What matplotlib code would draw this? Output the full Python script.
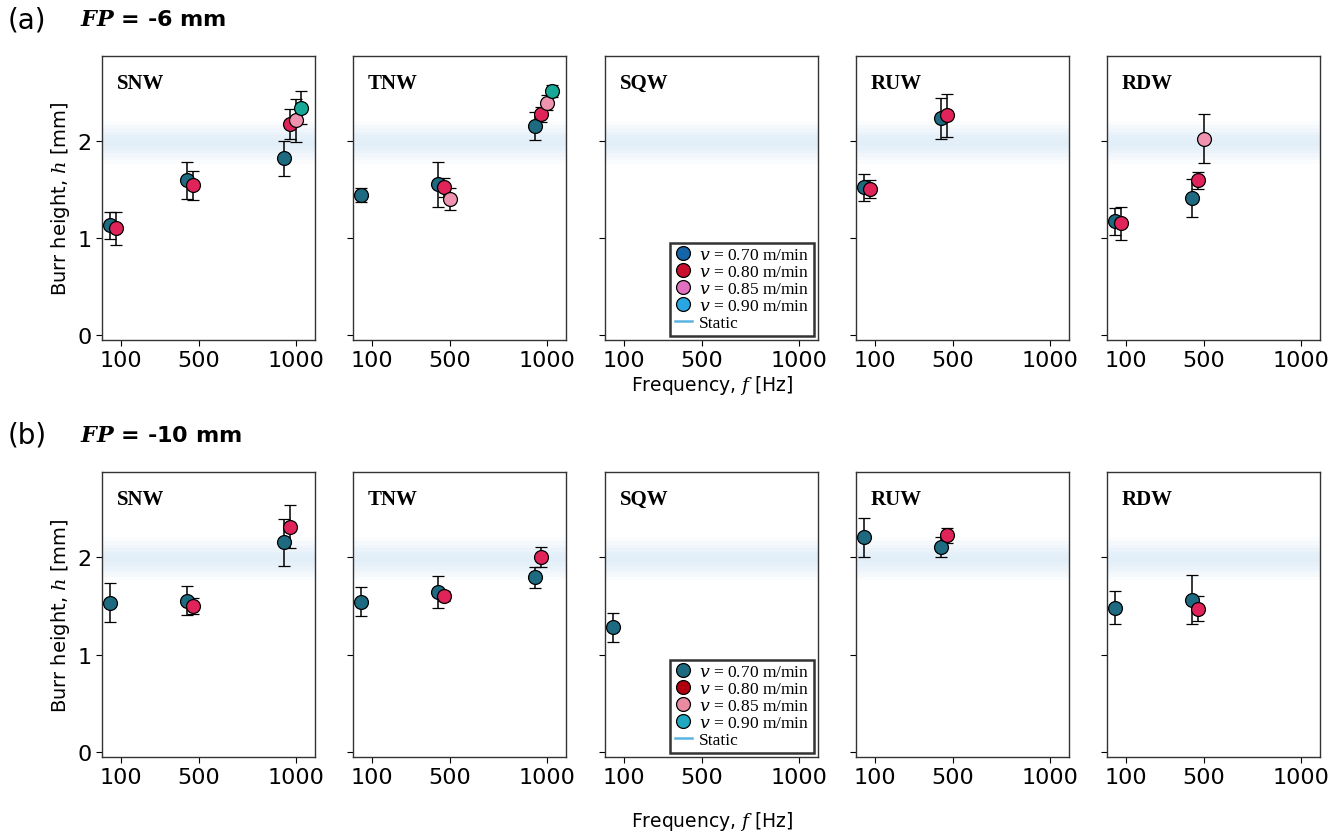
import numpy as np
import matplotlib
matplotlib.use("Agg")
import matplotlib.pyplot as plt
from matplotlib.lines import Line2D

plt.rcParams['font.family'] = ['DejaVu Sans']
plt.rcParams['mathtext.fontset'] = 'dejavuserif'

panels = ["SNW", "TNW", "SQW", "RUW", "RDW"]
speeds = ["0.70", "0.80", "0.85", "0.90"]
freq_ticks = [100, 500, 1000]

# (panel, speed, frequency [Hz], burr height [mm], error [mm])
fp6_points = [
    ("SNW", "0.70", 100, 1.13, 0.14), ("SNW", "0.80", 100, 1.10, 0.17),
    ("SNW", "0.70", 500, 1.59, 0.19), ("SNW", "0.80", 500, 1.54, 0.15),
    ("SNW", "0.70", 1000, 1.82, 0.18), ("SNW", "0.80", 1000, 2.17, 0.15),
    ("SNW", "0.85", 1000, 2.21, 0.22), ("SNW", "0.90", 1000, 2.34, 0.17),
    ("TNW", "0.70", 100, 1.44, 0.07),
    ("TNW", "0.70", 500, 1.55, 0.23), ("TNW", "0.80", 500, 1.52, 0.10),
    ("TNW", "0.85", 500, 1.40, 0.11),
    ("TNW", "0.70", 1000, 2.15, 0.14), ("TNW", "0.80", 1000, 2.27, 0.08),
    ("TNW", "0.85", 1000, 2.39, 0.08), ("TNW", "0.90", 1000, 2.51, 0.06),
    ("RUW", "0.70", 100, 1.52, 0.14), ("RUW", "0.80", 100, 1.50, 0.09),
    ("RUW", "0.70", 500, 2.23, 0.21), ("RUW", "0.80", 500, 2.26, 0.22),
    ("RDW", "0.70", 100, 1.17, 0.14), ("RDW", "0.80", 100, 1.15, 0.17),
    ("RDW", "0.70", 500, 1.41, 0.20), ("RDW", "0.80", 500, 1.59, 0.09),
    ("RDW", "0.85", 500, 2.02, 0.25),
]

fp10_points = [
    ("SNW", "0.70", 100, 1.53, 0.20),
    ("SNW", "0.70", 500, 1.55, 0.15), ("SNW", "0.80", 500, 1.50, 0.08),
    ("SNW", "0.70", 1000, 2.15, 0.24), ("SNW", "0.80", 1000, 2.31, 0.22),
    ("TNW", "0.70", 100, 1.54, 0.15),
    ("TNW", "0.70", 500, 1.64, 0.16), ("TNW", "0.80", 500, 1.60, 0.05),
    ("TNW", "0.70", 1000, 1.79, 0.11), ("TNW", "0.80", 1000, 2.00, 0.10),
    ("SQW", "0.70", 100, 1.28, 0.15),
    ("RUW", "0.70", 100, 2.20, 0.20),
    ("RUW", "0.70", 500, 2.10, 0.10), ("RUW", "0.80", 500, 2.22, 0.08),
    ("RDW", "0.70", 100, 1.48, 0.17),
    ("RDW", "0.70", 500, 1.56, 0.25), ("RDW", "0.80", 500, 1.47, 0.13),
]

static_h = 1.98
static_sd = 0.22

# styling
point_colors = {"0.70": "#1e6a80", "0.80": "#e0245a", "0.85": "#f093b0", "0.90": "#17a898"}
legend_colors_a = ["#1565a8", "#c8102e", "#e070c0", "#2aa6e0"]
legend_colors_b = ["#1e6a80", "#b00010", "#e88aa0", "#20a8c0"]
dodge = {"0.70": -60, "0.80": -30, "0.85": 0, "0.90": 30}

fig = plt.figure(figsize=(13.44, 8.37), dpi=100)

lefts = [102, 353, 605, 856, 1107]
W, H = 1344.0, 837.0


def draw_row(points, top_px, bot_px, xlab_px, leg_colors, tag, fp):
    axes = []
    for i, name in enumerate(panels):
        ax = fig.add_axes([lefts[i] / W, 1 - bot_px / H, 213 / W, (bot_px - top_px) / H])
        # blurred static band
        for k in range(1, 7):
            s = static_sd * k / 6
            ax.axhspan(static_h - s, static_h + s, color="#8cc3e6", alpha=0.045, lw=0, zorder=0)
        for sp in speeds:
            pts = [p for p in points if p[0] == name and p[1] == sp]
            if not pts:
                continue
            f = np.array([p[2] for p in pts]) + dodge[sp]
            h = [p[3] for p in pts]
            e = [p[4] for p in pts]
            ax.errorbar(f, h, yerr=e, fmt="o", ms=10, mfc=point_colors[sp], mec="black",
                        mew=0.9, ecolor="black", elinewidth=1.1, capsize=4, capthick=1.1, zorder=3)
        ax.set_xlim(0, 1100)
        ax.set_ylim(-0.05, 2.87)
        ax.set_xticks(freq_ticks)
        ax.set_yticks([0, 1, 2])
        ax.tick_params(labelsize=16, length=4, width=0.8, direction="out")
        ax.tick_params(axis="x", pad=3)
        if i > 0:
            ax.set_yticklabels([])
        for s in ax.spines.values():
            s.set_linewidth(1.0)
            s.set_color("#333333")
        ax.text(0.07, 0.94, name, transform=ax.transAxes, fontsize=15, fontweight="bold",
                family="Liberation Serif", va="top", ha="left")
        axes.append(ax)
    axes[0].set_ylabel("Burr height, $h$ [mm]", fontsize=14)

    handles = [Line2D([], [], ls="none", marker="o", ms=10, mfc=c, mec="black", mew=0.9)
               for c in leg_colors]
    handles.append(Line2D([], [], color="#5ab4e0", lw=1.8))
    labels = [f"$v$ = {s} m/min" for s in speeds] + ["Static"]
    leg = axes[2].legend(handles, labels, loc="lower right", frameon=True, fancybox=False,
                         prop={"family": "Liberation Serif", "size": 12.5}, handlelength=1.0,
                         handletextpad=0.4, borderpad=0.25, labelspacing=0.05,
                         borderaxespad=0.25, edgecolor="black")
    leg.get_frame().set_linewidth(1.8)

    fig.text(8 / W, 1 - (top_px - 37) / H, tag, fontsize=20, va="center", ha="left")
    fig.text(80 / W, 1 - (top_px - 37) / H, r"$\boldsymbol{FP}$ = " + fp, fontsize=16,
             fontweight="bold", va="center", ha="left")
    fig.text(712 / W, 1 - xlab_px / H, "Frequency, $f$ [Hz]", fontsize=13.5,
             ha="center", va="center")


draw_row(fp6_points, 57, 341, 386, legend_colors_a, "(a)", "-6 mm")
draw_row(fp10_points, 473, 758, 822, legend_colors_b, "(b)", "-10 mm")

fig.savefig("out.png", dpi=100, facecolor="white")
